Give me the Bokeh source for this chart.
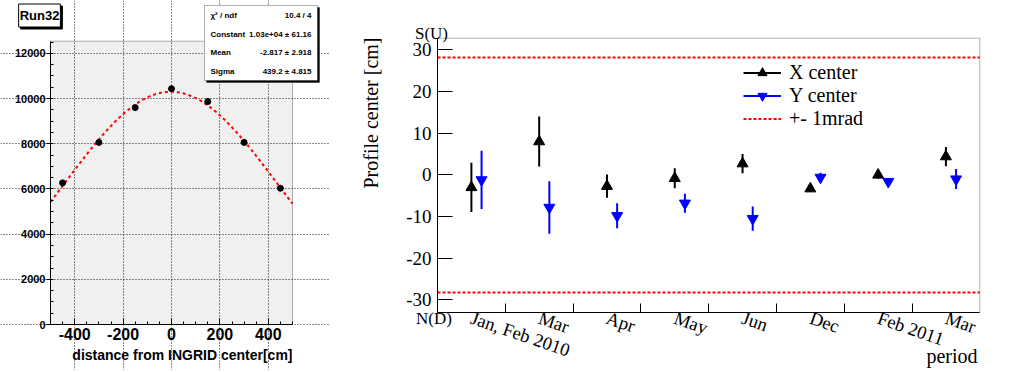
import numpy as np
from bokeh.plotting import figure
from bokeh.models import (Range1d, FixedTicker, Label, BoxAnnotation, Legend, LegendItem)
from bokeh.layouts import row
from bokeh.embed import file_html
from bokeh.resources import INLINE

# ---------------- left panel data (Run32 profile) ----------------
run_title = "Run32"
pos_cm = [-450, -300, -150, 0, 150, 300, 450]
counts = [6270, 8060, 9600, 10440, 9870, 8060, 6030]
fit_const = 1.03e4
fit_mean = -2.817
fit_sigma = 439.2
stats_names = ["\u03c7\u00b2 / ndf", "Constant", "Mean", "Sigma"]
stats_values = ["10.4 / 4", "1.03e+04 \u00b1 61.16", "-2.817 \u00b1 2.918", "439.2 \u00b1 4.815"]
left_xticks = [-400, -200, 0, 200, 400]
left_yticks = [0, 2000, 4000, 6000, 8000, 10000, 12000]
left_xlim = (-500, 500)
left_ylim = (0, 12540)

# ---------------- right panel data (profile centre vs period) ----------------
periods = ["Jan, Feb 2010", "Mar", "Apr", "May", "Jun", "Dec", "Feb 2011", "Mar"]
x_center = [-3.0, 8.0, -2.7, -0.8, 2.7, -3.3, 0.0, 4.4]
x_err = [5.9, 6.0, 2.8, 2.4, 2.3, 0.8, 0.9, 2.3]
y_center = [-1.2, -7.8, -9.8, -6.8, -10.5, -0.6, -1.6, -1.0]
y_err = [7.0, 6.3, 3.0, 2.3, 2.9, 1.1, 0.8, 2.4]
mrad_limit = 28.2
right_yticks = [-30, -20, -10, 0, 10, 20, 30]
right_ylim = (-33, 32.8)

SANS = "Liberation Sans"
SERIF = "Liberation Serif"
H = 370


def mk_range(p0, v0, p1, v1, size):
    """Range whose canvas pixels p0,p1 map to values v0,v1 (canvas 0..size)."""
    k = (v1 - v0) / (p1 - p0)
    return Range1d(v0 - p0 * k, v0 + (size - p0) * k)


# =================== LEFT FIGURE ===================
LW = 330
LFX0, LFX1, LFY0, LFY1 = 50, 292, 40.7, 324  # frame box in pixels
xr = mk_range(LFX0, left_xlim[0], LFX1, left_xlim[1], LW)
yk = (left_ylim[1] - left_ylim[0]) / (LFY1 - LFY0)
yr = Range1d(left_ylim[0] - (H - LFY1) * yk, left_ylim[1] + LFY0 * yk)

pl = figure(width=LW, height=H, output_backend="svg", toolbar_location=None,
            x_range=xr, y_range=yr, min_border=0)


def lpx(px):
    return xr.start + px / LW * (xr.end - xr.start)


def lpy(py):
    return yr.end - py / H * (yr.end - yr.start)


pl.background_fill_color = "white"
pl.border_fill_color = "white"
pl.outline_line_color = None

pl.add_layout(BoxAnnotation(left=left_xlim[0], right=left_xlim[1], bottom=left_ylim[0],
                            top=left_ylim[1], fill_color="#f0f0f0", fill_alpha=1,
                            line_color="black", line_width=1, level="image"))

pl.xaxis.fixed_location = left_ylim[0]
pl.yaxis.fixed_location = left_xlim[0]
pl.xaxis.bounds = left_xlim
pl.yaxis.bounds = left_ylim
for ax in (pl.xaxis[0], pl.yaxis[0]):
    ax.axis_line_color = "black"
    ax.major_tick_line_color = "black"
    ax.minor_tick_line_color = "black"
    ax.minor_tick_in = 3
    ax.minor_tick_out = 0
    ax.major_label_text_font = SANS
    ax.major_label_text_font_style = "bold"
    ax.major_label_text_color = "black"
pl.xaxis.major_tick_in = 6
pl.xaxis.major_tick_out = 0
pl.yaxis.major_tick_in = 0
pl.yaxis.major_tick_out = 4
pl.xaxis.ticker = FixedTicker(ticks=left_xticks, minor_ticks=list(range(-500, 501, 50)))
pl.yaxis.ticker = FixedTicker(ticks=left_yticks, minor_ticks=list(range(0, 12501, 500)))
pl.xaxis.major_label_overrides = {t: str(t) for t in left_xticks}
pl.yaxis.major_label_overrides = {t: str(t) for t in left_yticks}
pl.xaxis.major_label_text_font_size = "16px"
pl.yaxis.major_label_text_font_size = "11px"
pl.xaxis.major_label_standoff = 3
pl.yaxis.major_label_standoff = 1
pl.xgrid.ticker = FixedTicker(ticks=left_xticks)
pl.ygrid.ticker = FixedTicker(ticks=left_yticks)
pl.xgrid.bounds = left_ylim
pl.ygrid.bounds = left_xlim
for g in (pl.xgrid[0], pl.ygrid[0]):
    g.grid_line_color = "black"
    g.grid_line_dash = "1 2"
    g.grid_line_alpha = 0.9

xs = np.linspace(left_xlim[0], left_xlim[1], 200)
fit = fit_const * np.exp(-0.5 * ((xs - fit_mean) / fit_sigma) ** 2)
pl.line(xs, fit, line_color="red", line_width=2, line_dash="3 3")
pl.scatter(pos_cm, counts, size=6, color="black")

# title box with shadow
for off, bg in ((2, "black"), (0, "white")):
    pl.add_layout(Label(x=lpx(39), y=lpy(15), text=run_title, text_align="center",
                        text_baseline="middle", text_font=SANS, text_font_style="bold",
                        text_font_size="13px", text_color="black",
                        x_offset=off, y_offset=-off,
                        background_fill_color=bg, border_line_color="black",
                        padding=(1, 4)))
# stats box with shadow
pl.add_layout(BoxAnnotation(left=lpx(206), right=lpx(319), top=lpy(7), bottom=lpy(82),
                            fill_color="black", fill_alpha=1, line_color="black"))
pl.add_layout(BoxAnnotation(left=lpx(204), right=lpx(317), top=lpy(5), bottom=lpy(80),
                            fill_color="white", fill_alpha=1, line_color="black",
                            line_width=1))
for nm, vl, py in zip(stats_names, stats_values, [15, 34, 52.3, 70.5]):
    pl.add_layout(Label(x=lpx(210), y=lpy(py), text=nm, text_align="left",
                        text_baseline="middle", text_font=SANS, text_font_style="bold",
                        text_font_size="8px", text_color="black"))
    pl.add_layout(Label(x=lpx(311), y=lpy(py), text=vl, text_align="right",
                        text_baseline="middle", text_font=SANS, text_font_style="bold",
                        text_font_size="8px", text_color="black"))
pl.add_layout(Label(x=left_xlim[1], y=lpy(354), text="distance from INGRID center[cm]",
                    text_align="right", text_baseline="alphabetic", text_font=SANS,
                    text_font_style="bold", text_font_size="14px", text_color="black"))

# =================== RIGHT FIGURE ===================
RW = 679
OX = 330  # page x of right canvas
RFX0, RFX1, RFY0, RFY1 = 437 - OX, 979.3 - OX, 37.7, 312
nper = len(periods)
rxr = mk_range(RFX0, 0, RFX1, nper, RW)
rk = (right_ylim[1] - right_ylim[0]) / (RFY1 - RFY0)
ryr = Range1d(right_ylim[0] - (H - RFY1) * rk, right_ylim[1] + RFY0 * rk)

pr = figure(width=RW, height=H, output_backend="svg", toolbar_location=None,
            x_range=rxr, y_range=ryr, min_border=0)


def rpx(px):  # page px
    return rxr.start + (px - OX) / RW * (rxr.end - rxr.start)


def rpy(py):
    return ryr.end - py / H * (ryr.end - ryr.start)


pr.background_fill_color = "white"
pr.border_fill_color = "white"
pr.outline_line_color = None
pr.xgrid.visible = False
pr.ygrid.visible = False

pr.add_layout(BoxAnnotation(left=0, right=nper, bottom=right_ylim[0], top=right_ylim[1],
                            fill_alpha=0, line_color="black", line_width=1,
                            level="underlay"))

ya = pr.yaxis[0]
ya.fixed_location = 0
ya.bounds = right_ylim
ya.ticker = FixedTicker(ticks=right_yticks, minor_ticks=[])
ya.major_label_overrides = {t: str(t) for t in right_yticks}
ya.major_tick_in = 15
ya.major_tick_out = 0
ya.major_tick_line_color = "black"
ya.major_label_text_font = SERIF
ya.major_label_text_font_size = "19px"
ya.major_label_text_color = "black"
ya.major_label_standoff = 6
ya.axis_line_color = "black"

xa = pr.xaxis[0]
xa.fixed_location = right_ylim[0]
xa.bounds = (0, nper)
centers = [i + 0.5 for i in range(nper)]
xa.ticker = FixedTicker(ticks=centers, minor_ticks=list(range(1, nper)))
xa.major_label_overrides = {c: lab for c, lab in zip(centers, periods)}
xa.major_tick_in = 0
xa.major_tick_out = 0
xa.minor_tick_in = 9
xa.minor_tick_out = 0
xa.minor_tick_line_color = "black"
xa.major_label_orientation = -0.33
xa.major_label_text_font = SERIF
xa.major_label_text_font_size = "18.5px"
xa.major_label_text_color = "black"
xa.major_label_standoff = 5
xa.axis_line_color = "black"

# +-1 mrad lines
mr = pr.line([0, nper], [mrad_limit, mrad_limit], line_color="red", line_width=2,
             line_dash="3 2")
pr.line([0, nper], [-mrad_limit, -mrad_limit], line_color="red", line_width=2,
        line_dash="3 2")

xpos = centers
ypos = [c + 0.15 for c in centers]
xv = np.array(x_center); xe = np.array(x_err)
yv = np.array(y_center); ye = np.array(y_err)
ex = pr.segment(xpos, xv - xe, xpos, xv + xe, line_color="black", line_width=2)
ey = pr.segment(ypos, yv - ye, ypos, yv + ye, line_color="blue", line_width=2)
sx = pr.scatter(xpos, x_center, marker="triangle", size=11, color="black")
sy = pr.scatter(ypos, y_center, marker="inverted_triangle", size=11, color="blue")

legend = Legend(items=[LegendItem(label="X center", renderers=[ex, sx]),
                       LegendItem(label="Y center", renderers=[ey, sy]),
                       LegendItem(label="+- 1mrad", renderers=[mr])],
                location=(743 - OX, H - 129.5), padding=0, margin=0, spacing=0,
                glyph_width=38, glyph_height=23, label_height=23, label_standoff=8,
                label_text_font=SERIF, label_text_font_size="20px",
                label_text_color="black", border_line_color=None,
                background_fill_alpha=0)
pr.add_layout(legend)

pr.add_layout(Label(x=rpx(370), y=rpy(37), text="Profile center [cm]", angle=np.pi / 2,
                    text_align="right", text_baseline="middle", text_font=SERIF,
                    text_font_size="20px", text_color="black"))
pr.add_layout(Label(x=rpx(431), y=rpy(32.5), text="S(U)", text_align="center",
                    text_baseline="middle", text_font=SERIF, text_font_size="17px",
                    text_color="black"))
pr.add_layout(Label(x=rpx(433.5), y=rpy(318), text="N(D)", text_align="center",
                    text_baseline="middle", text_font=SERIF, text_font_size="17px",
                    text_color="black"))
pr.add_layout(Label(x=rpx(977), y=rpy(355), text="period", text_align="right",
                    text_baseline="alphabetic", text_font=SERIF, text_font_size="20px",
                    text_color="black"))

layout = row(pl, pr, spacing=0)
open("out.html", "w").write(file_html(layout, INLINE))
